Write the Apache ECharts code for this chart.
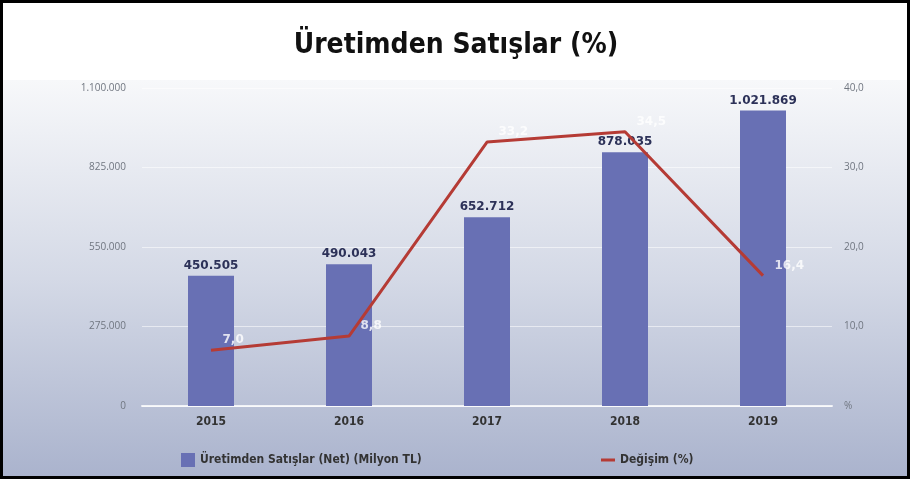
<!DOCTYPE html>
<html>
<head>
<meta charset="utf-8">
<script src="https://cdn.jsdelivr.net/npm/echarts@6/dist/echarts.min.js"></script>
<style>
html,body{margin:0;padding:0;background:#fff;}
#main{width:912px;height:481px;}
</style>
</head>
<body>
<div id="main"></div>
<script>
var years = ['2015', '2016', '2017', '2018', '2019'];
var sales = [450505, 490043, 652712, 878035, 1021869];
var change = [7.0, 8.8, 33.2, 34.5, 16.4];
var leftTicks = [0, 275000, 550000, 825000, 1100000];
var rightTicks = [0, 10, 20, 30, 40];

var CONDENSED = '"DejaVu Sans Condensed", "DejaVu Sans", sans-serif';
var legendText = {
	fontFamily: CONDENSED,
	fontWeight: 'bold',
	fontSize: 12,
	color: '#333'
};

function fmtThousands(v)
{
	return String(v).replace(/\B(?=(\d{3})+(?!\d))/g, '.');
}

function fmtDec(v)
{
	return v.toFixed(1).replace('.', ',');
}

function initChart()
{
	var myChart = echarts.init(document.getElementById('main'));

	var option = {
		backgroundColor: '#ffffff',
		animation: false,
		title: {
			text: 'Üretimden Satışlar (%)',
			left: 'center',
			top: 27,
			textStyle: {
				fontFamily: CONDENSED,
				fontWeight: 'bold',
				fontSize: 28,
				color: '#111'
			}
		},
		graphic: [
			{
				type: 'rect',
				z: -10,
				shape: { x: 3, y: 80, width: 904, height: 397 },
				style: {
					fill: new echarts.graphic.LinearGradient(0, 0, 0, 1, [
						{ offset: 0, color: '#f7f8fa' },
						{ offset: 0.5, color: '#d4d9e6' },
						{ offset: 1, color: '#aab3cd' }
					])
				}
			},
			{
				type: 'rect',
				z: 100,
				shape: { x: 1.5, y: 1.5, width: 907, height: 476 },
				style: { fill: 'none', stroke: '#000', lineWidth: 3 }
			}
		],
		grid: { left: 142, right: 80, top: 88, bottom: 75 },
		legend: [
			{
				bottom: 9,
				left: 176,
				itemWidth: 14,
				itemHeight: 14,
				textStyle: legendText,
				data: [{ name: 'Üretimden Satışlar (Net) (Milyon TL)', icon: 'rect' }]
			},
			{
				bottom: 10,
				left: 596,
				itemWidth: 14,
				itemHeight: 3,
				textStyle: legendText,
				data: [{ name: 'Değişim (%)', icon: 'rect' }]
			}
		],
		xAxis: {
			type: 'category',
			data: years,
			axisTick: { show: false },
			axisLine: { lineStyle: { color: 'rgba(255,255,255,0.8)', width: 2 } },
			axisLabel: {
				margin: 10,
				fontFamily: CONDENSED,
				fontWeight: 'bold',
				fontSize: 12,
				color: '#333'
			}
		},
		yAxis: [
			{
				type: 'value',
				min: 0,
				max: 1100000,
				interval: 275000,
				axisLine: { show: false },
				axisTick: { show: false },
				splitLine: { lineStyle: { color: 'rgba(255,255,255,0.55)', width: 1 } },
				axisLabel: {
					margin: 16,
					fontFamily: 'Open Sans',
					fontSize: 10,
					color: '#707680',
					formatter: function (v) { return fmtThousands(v); }
				}
			},
			{
				type: 'value',
				min: 0,
				max: 40,
				interval: 10,
				axisLine: { show: false },
				axisTick: { show: false },
				splitLine: { show: false },
				axisLabel: {
					margin: 12,
					fontFamily: 'Open Sans',
					fontSize: 10,
					color: '#707680',
					formatter: function (v) { return v === 0 ? '%' : fmtDec(v); }
				}
			}
		],
		series: [
			{
				name: 'Üretimden Satışlar (Net) (Milyon TL)',
				type: 'bar',
				data: sales,
				barWidth: 46,
				itemStyle: { color: '#6870b4' },
				label: {
					show: true,
					position: 'top',
					distance: 4,
					fontFamily: 'DejaVu Sans',
					fontWeight: 'bold',
					fontSize: 12,
					color: '#2c3158',
					formatter: function (p) { return fmtThousands(p.value); }
				}
			},
			{
				name: 'Değişim (%)',
				type: 'line',
				yAxisIndex: 1,
				data: change,
				symbol: 'none',
				lineStyle: { color: '#b53b35', width: 3 },
				itemStyle: { color: '#b53b35' }
			},
			{
				// only carries the white value labels of the line
				name: 'labels',
				type: 'scatter',
				yAxisIndex: 1,
				data: change,
				symbolSize: 1,
				z: 5,
				itemStyle: { color: 'rgba(0,0,0,0)' },
				label: {
					show: true,
					position: 'right',
					offset: [6, -10],
					fontFamily: 'DejaVu Sans',
					fontWeight: 'bold',
					fontSize: 12,
					color: '#ffffff',
					formatter: function (p) { return fmtDec(p.value); }
				}
			}
		]
	};

	myChart.setOption(option);
}

initChart();
</script>
</body>
</html>
